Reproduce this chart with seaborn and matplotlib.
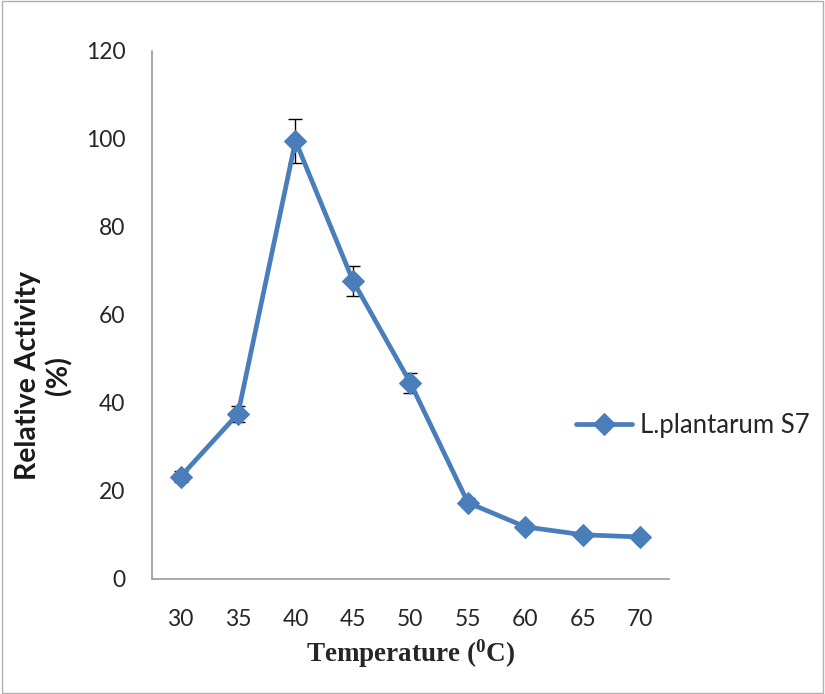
import matplotlib
matplotlib.use("Agg")
import matplotlib.pyplot as plt
import seaborn as sns
import pandas as pd

temperature = [30, 35, 40, 45, 50, 55, 60, 65, 70]
activity = [23.2, 37.5, 99.5, 67.7, 44.5, 17.3, 11.8, 10.0, 9.5]
error = [1.2, 1.8, 5.0, 3.4, 2.2, 1.0, 0.8, 0.6, 0.6]
series_name = "L.plantarum S7"
y_ticks = [0, 20, 40, 60, 80, 100, 120]

sns.set_theme(style="white")
plt.rcParams['font.family'] = ['Lato', 'DejaVu Sans']
plt.rcParams['mathtext.fontset'] = 'custom'
plt.rcParams['mathtext.rm'] = 'Liberation Serif:bold'
plt.rcParams['mathtext.bf'] = 'Liberation Serif:bold'

df = pd.DataFrame({"Temperature": temperature, "Activity": activity, "Series": series_name})

fig = plt.figure(figsize=(8.25, 6.94), dpi=100)
ax = fig.add_axes([0.184, 0.166, 0.627, 0.761])

color = "#4A7EBB"
ax.errorbar(temperature, activity, yerr=error, fmt="none", ecolor="black",
            elinewidth=1.0, capsize=5, capthick=1.0, zorder=2)
sns.lineplot(data=df, x="Temperature", y="Activity", hue="Series", palette=[color],
             marker="D", markersize=11, linewidth=3.4, markeredgecolor=color,
             ax=ax, zorder=3, legend=True)

ax.set_xlim(27.5, 72.5)
ax.set_ylim(0, 120)
ax.set_xticks(temperature)
ax.set_xticklabels([str(t) for t in temperature], fontsize=16.5, color="#262626")
ax.set_yticks(y_ticks)
ax.set_yticklabels([str(v) for v in y_ticks], fontsize=16.5, color="#262626")
ax.tick_params(axis="x", length=0, pad=22)
ax.tick_params(axis="y", length=0, pad=19)

for s in ["top", "right"]:
    ax.spines[s].set_visible(False)
for s in ["left", "bottom"]:
    ax.spines[s].set_color("#9a9a9a")
    ax.spines[s].set_linewidth(1.2)

ax.set_xlabel(r"Temperature ($\mathregular{^{0}}$C)", fontsize=19.5, fontweight="bold",
              family="Liberation Serif", labelpad=5)
ax.set_ylabel("")
fig.text(0.053, 1 - 376 / 694, "Relative Activity\n(%)", rotation=90, ha="center", va="center",
         multialignment="center", fontsize=20.5, fontweight="bold", linespacing=1.2,
         color="#1a1a1a")

leg = ax.legend(loc="center left", bbox_to_anchor=(0.67, 1 - 425 / 694),
                bbox_transform=fig.transFigure,
                frameon=False, fontsize=18.5, handlelength=2.2, handletextpad=0.3)
for t in leg.get_texts():
    t.set_color("#262626")

border = plt.Rectangle((0.002, 0.002), 0.996, 0.996, transform=fig.transFigure,
                       fill=False, edgecolor="#b0b0b0", linewidth=1.0)
fig.patches.append(border)

fig.savefig("out.png", dpi=100)
